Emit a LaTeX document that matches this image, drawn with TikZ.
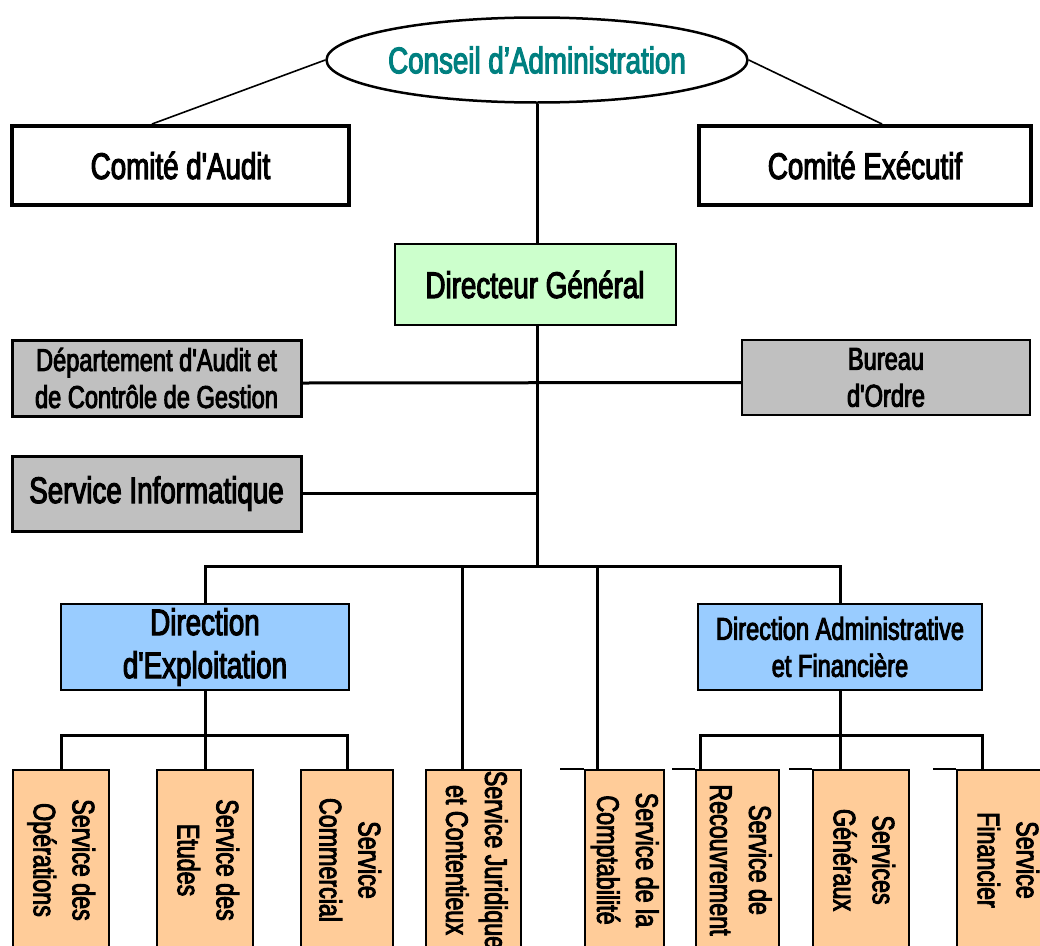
\documentclass[tikz,border=0pt]{standalone}
\usepackage{fontspec}
\setmainfont{Liberation Sans}[FakeStretch=0.75,FakeBold=3,Ligatures=TeXOff]
\usetikzlibrary{shapes.geometric}
\definecolor{tealc}{RGB}{0,128,128}
\definecolor{dggreen}{RGB}{204,255,204}
\definecolor{grayb}{RGB}{192,192,192}
\definecolor{blueb}{RGB}{153,204,255}
\definecolor{peach}{RGB}{255,204,153}
\newcommand\vlab[1]{\rotatebox{-90}{\begin{tabular}{@{}c@{}}#1\end{tabular}}}
\begin{document}
\begin{tikzpicture}[x=1pt,y=-1pt,
  conn/.style={line width=3pt},
  thinconn/.style={line width=1.6pt},
  stub/.style={line width=1.6pt},
  box/.style={draw, rectangle, inner sep=0pt, align=center},
  bigf/.style={font=\fontsize{37}{43}\selectfont},
  midf/.style={font=\fontsize{31.5}{37}\selectfont},
  vbox/.style={box, fill=peach, line width=1.5pt, minimum height=180pt, font=\fontsize{31}{39}\selectfont},
]
\useasboundingbox (0,0) rectangle (1040,945);
\clip (0,0) rectangle (1040,945);

% top level
\node[ellipse, draw, line width=2.5pt, minimum width=380pt, minimum height=85pt, inner sep=0pt,
      text=tealc, bigf] (ca) at (537,60) {Conseil d’Administration};
\node[box, line width=4pt, minimum width=337pt, minimum height=79pt, bigf] (audit) at (180.5,165.5) {Comité d'Audit};
\node[box, line width=4pt, minimum width=332pt, minimum height=79pt, bigf] (exec) at (865,165.5) {Comité Exécutif};
\node[box, fill=dggreen, line width=2pt, minimum width=281pt, minimum height=81pt, bigf] (dg) at (535,284.5) {Directeur Général};

% staff
\node[box, fill=grayb, line width=3pt, minimum width=289pt, minimum height=76pt, midf] (dept) at (156.5,378) {Département d'Audit et\\de Contrôle de Gestion};
\node[box, fill=grayb, line width=2pt, minimum width=288pt, minimum height=75pt, midf] (bureau) at (886,377.5) {Bureau\\d'Ordre};
\node[box, fill=grayb, line width=3pt, minimum width=289pt, minimum height=75pt, bigf] (si) at (156.5,493.5) {Service Informatique};

% directions
\node[box, fill=blueb, line width=2pt, minimum width=288pt, minimum height=86pt, bigf] (de) at (205,647) {Direction\\d'Exploitation};
\node[box, fill=blueb, line width=2pt, minimum width=284pt, minimum height=86pt, midf] (daf) at (840,647) {Direction Administrative\\et Financière};

% services
\node[vbox, minimum width=96pt] (op) at (61,860) {\vlab{Service des\\Opérations}};
\node[vbox, minimum width=96pt] (et) at (205,860) {\vlab{Service des\\Etudes}};
\node[vbox, minimum width=92pt] (com) at (347,860) {\vlab{Service\\Commercial}};
\node[vbox, minimum width=95pt] (jur) at (473.5,860) {\vlab{Service Juridique\\et Contentieux}};
\node[vbox, minimum width=79pt] (compta) at (624.5,860) {\vlab{Service de la\\Comptabilité}};
\node[vbox, minimum width=83pt] (rec) at (737.5,860) {\vlab{Service de\\Recouvrement}};
\node[vbox, minimum width=96pt] (gen) at (861,860) {\vlab{Services\\Généraux}};
\node[vbox, minimum width=96pt] (fin) at (1005,860) {\vlab{Service\\Financier}};

% connectors
\draw[thinconn] (ca.west) -- ([xshift=-28.5pt]audit.north);
\draw[thinconn] (ca.east) -- ([xshift=17pt]exec.north);
\draw[conn] (ca.south) -- (ca.south |- dg.north);
\coordinate (b0) at (537,566);
\draw[conn] (ca.south |- dg.south) -- (b0);
\draw[conn] ([yshift=-5pt]dept.east) -- ([yshift=-5pt]bureau.west);
\draw[conn] (si.east) -- (si.east -| b0);
\draw[conn] (de.north) -- (de.north |- b0) -- (daf.north |- b0) -- (daf.north);
\coordinate (dj) at (462,566);
\coordinate (dc) at (597,566);
\draw[conn] (dj) -- (dj |- jur.north);
\draw[conn] (dc) -- (dc |- compta.north);

\coordinate (se) at (205,735);
\draw[conn] (de.south) -- (de.south |- et.north);
\draw[conn] (op.north) -- (op.north |- se) -- (com.north |- se) -- (com.north);

\coordinate (d1) at (700,735);
\coordinate (d3) at (982,735);
\draw[conn] (daf.south) -- (daf.south |- gen.north);
\draw[conn] (d1 |- rec.north) -- (d1) -- (d3) -- (d3 |- fin.north);

% stubs
\draw[stub] (compta.north west) -- ++(-24,0);
\draw[stub] (rec.north west) -- ++(-23,0);
\draw[stub] (gen.north west) -- ++(-23,0);
\draw[stub] (fin.north west) -- ++(-23,0);
\end{tikzpicture}
\end{document}
